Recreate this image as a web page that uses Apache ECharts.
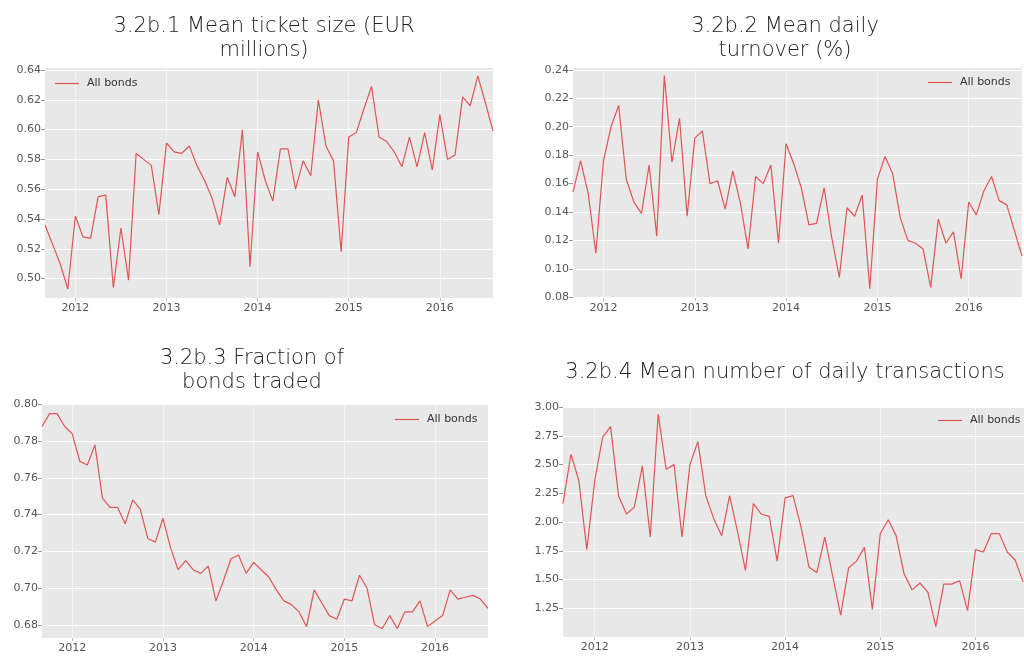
<!DOCTYPE html>
<html>
<head>
<meta charset="utf-8">
<script src="https://cdn.jsdelivr.net/npm/echarts@6/dist/echarts.min.js"></script>
<style>
  html, body { margin: 0; padding: 0; background: #fff; overflow: hidden; }
  #main { width: 1060px; height: 657px; }
</style>
</head>
<body>
<div id="main"></div>
<script>
// monthly observations, Sep 2011 - Aug 2016
const months = []
for (let y = 2011; y <= 2016; y++) {
  for (let m = 1; m <= 12; m++) {
    if ((y === 2011 && m < 9) || (y === 2016 && m > 8)) continue
    months.push(y + '-' + String(m).padStart(2, '0'))
  }
}
const yearTicks = ['2012', '2013', '2014', '2015', '2016']

const ticketSize = [
  0.536, 0.523, 0.510, 0.493,
  0.542, 0.528, 0.527, 0.555, 0.556, 0.494, 0.534, 0.499, 0.584, 0.580, 0.576, 0.543,
  0.591, 0.585, 0.584, 0.589, 0.576, 0.566, 0.554, 0.536, 0.568, 0.555, 0.600, 0.508,
  0.585, 0.566, 0.552, 0.587, 0.587, 0.560, 0.579, 0.569, 0.620, 0.589, 0.579, 0.518,
  0.595, 0.598, 0.614, 0.629, 0.595, 0.592, 0.585, 0.575, 0.595, 0.575, 0.598, 0.573,
  0.610, 0.580, 0.583, 0.622, 0.616, 0.636, 0.618, 0.599
]
const turnover = [
  0.154, 0.176, 0.153, 0.111,
  0.176, 0.200, 0.215, 0.163, 0.147, 0.139, 0.173, 0.123, 0.236, 0.175, 0.206, 0.137,
  0.192, 0.197, 0.160, 0.162, 0.142, 0.169, 0.146, 0.114, 0.165, 0.160, 0.173, 0.118,
  0.188, 0.174, 0.157, 0.131, 0.132, 0.157, 0.122, 0.094, 0.143, 0.137, 0.152, 0.086,
  0.163, 0.179, 0.167, 0.136, 0.120, 0.118, 0.114, 0.087, 0.135, 0.118, 0.126, 0.093,
  0.147, 0.138, 0.155, 0.165, 0.148, 0.145, 0.127, 0.109
]
const fractionTraded = [
  0.788, 0.795, 0.795, 0.788,
  0.784, 0.769, 0.767, 0.778, 0.749, 0.744, 0.744, 0.735, 0.748, 0.743, 0.727, 0.725,
  0.738, 0.722, 0.710, 0.715, 0.710, 0.708, 0.712, 0.693, 0.704, 0.716, 0.718, 0.708,
  0.714, 0.710, 0.706, 0.699, 0.693, 0.691, 0.687, 0.679, 0.699, 0.692, 0.685, 0.683,
  0.694, 0.693, 0.707, 0.700, 0.680, 0.678, 0.685, 0.678, 0.687, 0.687, 0.693, 0.679,
  0.682, 0.685, 0.699, 0.694, 0.695, 0.696, 0.694, 0.689
]
// last month is cut off by the page edge in the source
const transactions = [
  2.16, 2.59, 2.36, 1.76,
  2.36, 2.74, 2.83, 2.23, 2.07, 2.13, 2.49, 1.87, 2.94, 2.46, 2.50, 1.87,
  2.50, 2.70, 2.23, 2.03, 1.88, 2.23, 1.92, 1.58, 2.16, 2.07, 2.05, 1.66,
  2.21, 2.23, 1.96, 1.61, 1.56, 1.87, 1.53, 1.19, 1.60, 1.66, 1.78, 1.24,
  1.90, 2.02, 1.88, 1.55, 1.41, 1.47, 1.39, 1.09, 1.46, 1.46, 1.49, 1.23,
  1.76, 1.74, 1.90, 1.90, 1.74, 1.67, 1.48
]

const lineColor = '#e05555'
const isJan = (idx, val) => val.slice(5) === '01'

const panels = [
  { title: '3.2b.1 Mean ticket size (EUR\nmillions)', tx: 259, ty: 10, data: ticketSize,
    grid: { left: 45, top: 67, width: 448, height: 231 },
    y: { min: 0.487, max: 0.642, splitNumber: 8 }, legend: { left: 55, top: 78 } },
  { title: '3.2b.2 Mean daily\nturnover (%)', tx: 780, ty: 10, data: turnover,
    grid: { left: 573, top: 67, width: 449, height: 231 },
    y: { min: 0.0795, max: 0.242, splitNumber: 8 }, legend: { left: 928, top: 77 } },
  { title: '3.2b.3 Fraction of\nbonds traded', tx: 247, ty: 342, data: fractionTraded,
    grid: { left: 42, top: 403, width: 446, height: 235 },
    y: { min: 0.6728, max: 0.8008, splitNumber: 6 }, legend: { left: 395, top: 414 } },
  { title: '3.2b.4 Mean number of daily transactions', tx: 780, ty: 356, data: transactions,
    grid: { left: 563, top: 406, width: 468, height: 231 },
    y: { min: 1, max: 3.01, interval: 0.25 }, legend: { left: 938, top: 415 } }
]

const chart = echarts.init(document.getElementById('main'))

chart.setOption({
  animation: false,
  title: panels.map(p => ({
    text: p.title,
    left: p.tx,
    top: p.ty,
    textAlign: 'center',
    textStyle: { fontFamily: 'DejaVu Sans', fontSize: 21, fontWeight: 200, color: '#222', lineHeight: 24 }
  })),
  legend: panels.map(p => ({
    left: p.legend.left,
    top: p.legend.top,
    padding: 0,
    data: ['All bonds'],
    icon: 'rect',
    itemWidth: 24,
    itemHeight: 1.2,
    itemStyle: { color: lineColor },
    textStyle: { fontFamily: 'DejaVu Sans', fontSize: 11, color: '#333', padding: [0, 0, 0, 3] }
  })),
  grid: panels.map(p => Object.assign({
    show: true,
    backgroundColor: '#e8e8e8',
    borderWidth: 0
  }, p.grid)),
  xAxis: panels.map((p, i) => ({
    type: 'category',
    gridIndex: i,
    data: months,
    boundaryGap: false,
    axisLine: { show: false },
    axisTick: { show: true, interval: isJan, length: 3, lineStyle: { color: '#bbb' } },
    axisLabel: {
      interval: isJan,
      margin: 5,
      fontFamily: 'DejaVu Sans',
      fontSize: 11,
      color: '#555',
      formatter: v => v.slice(0, 4)
    },
    splitLine: { show: true, interval: isJan, lineStyle: { color: '#fff', width: 1, opacity: 0.5 } }
  })),
  yAxis: panels.map((p, i) => Object.assign({
    type: 'value',
    gridIndex: i,
    axisLine: { show: false },
    axisTick: { show: true, length: 4, lineStyle: { color: '#999' } },
    axisLabel: {
      margin: 4,
      showMinLabel: false,
      showMaxLabel: false,
      fontFamily: 'DejaVu Sans',
      fontSize: 11,
      color: '#555',
      formatter: v => v.toFixed(2)
    },
    splitLine: { lineStyle: { color: '#fff', width: 1 } }
  }, p.y)),
  series: panels.map((p, i) => ({
    name: 'All bonds',
    type: 'line',
    xAxisIndex: i,
    yAxisIndex: i,
    data: p.data,
    symbol: 'none',
    lineStyle: { color: lineColor, width: 1.2 },
    itemStyle: { color: lineColor }
  }))
})
</script>
</body>
</html>
